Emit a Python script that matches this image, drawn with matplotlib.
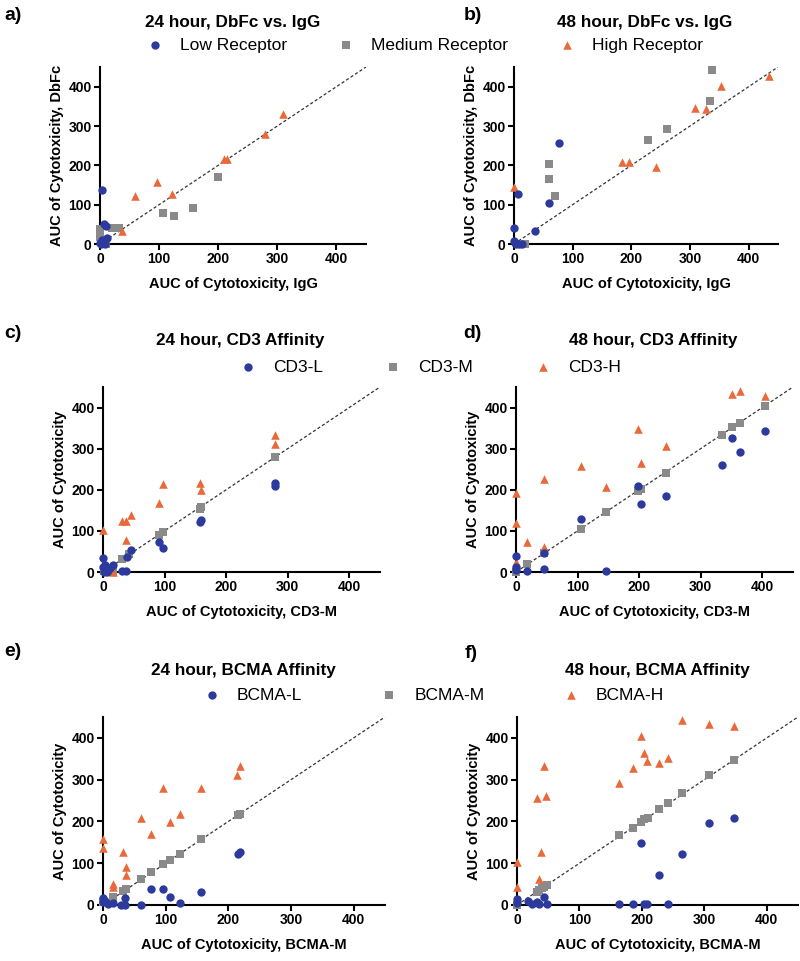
import matplotlib
matplotlib.use('Agg')
import matplotlib.pyplot as plt

plt.rcParams['font.family'] = ['Liberation Sans', 'DejaVu Sans']

#%% Data
# a) 24 hour, DbFc vs IgG
a_low_x = [3, 7, 10, 11, 3, 0, 6, 8, 2]
a_low_y = [138, 52, 45, 15, 10, 2, 5, 0, 0]
a_med_x = [0, 0, 20, 32, 10, 106, 126, 158, 199]
a_med_y = [38, 18, 40, 40, 0, 78, 72, 91, 171]
a_high_x = [38, 59, 96, 122, 210, 215, 279, 310]
a_high_y = [32, 123, 157, 126, 216, 216, 280, 331]

# b) 48 hour, DbFc vs IgG
b_low_x = [7, 0, 0, 1, 8, 14, 4, 36, 60, 77]
b_low_y = [128, 40, 8, 2, 1, 0, 0, 34, 105, 258]
b_med_x = [19, 60, 60, 70, 228, 261, 334, 338]
b_med_y = [0, 203, 165, 122, 264, 293, 363, 442]
b_high_x = [0, 184, 196, 242, 308, 327, 353, 434]
b_high_y = [144, 208, 208, 197, 345, 343, 401, 426]

# c) 24 hour, CD3 affinity
c_low_x = [0, 0, 4, 8, 12, 17, 31, 38, 39, 46, 91, 97, 157, 159, 280, 280, 2, 6]
c_low_y = [33, 12, 18, 5, 10, 18, 2, 2, 37, 53, 72, 59, 122, 126, 210, 217, 0, 0]
c_med_x = [2, 17, 31, 43, 91, 97, 157, 159, 279]
c_med_y = [2, 0, 31, 43, 91, 98, 154, 159, 279]
c_high_x = [0, 0, 17, 31, 38, 46, 37, 91, 97, 157, 159, 280, 280]
c_high_y = [103, 20, 0, 124, 124, 138, 77, 169, 214, 217, 199, 333, 311]

# d) 48 hour, CD3 affinity
d_low_x = [0, 0, 0, 18, 45, 45, 105, 147, 198, 203, 243, 334, 351, 364, 404]
d_low_y = [39, 12, 4, 2, 47, 8, 128, 2, 210, 165, 185, 260, 327, 293, 344]
d_med_x = [0, 18, 45, 105, 147, 198, 203, 243, 334, 351, 364, 404]
d_med_y = [0, 20, 47, 104, 146, 198, 203, 241, 333, 352, 363, 404]
d_high_x = [0, 0, 0, 18, 45, 45, 105, 147, 198, 203, 243, 351, 364, 404]
d_high_y = [193, 120, 24, 72, 61, 226, 258, 207, 347, 264, 307, 433, 441, 427]

# e) 24 hour, BCMA affinity
e_low_x = [0, 0, 3, 8, 16, 29, 35, 35, 61, 77, 96, 107, 123, 156, 215, 219]
e_low_y = [16, 6, 10, 2, 4, 0, 16, 0, 0, 39, 39, 20, 4, 32, 123, 127]
e_med_x = [0, 16, 32, 37, 61, 77, 96, 107, 123, 156, 215, 219]
e_med_y = [8, 20, 34, 39, 62, 78, 99, 107, 123, 157, 215, 217]
e_high_x = [0, 0, 16, 16, 32, 37, 37, 60, 77, 96, 107, 123, 156, 214, 218]
e_high_y = [157, 137, 51, 44, 127, 90, 71, 209, 171, 280, 199, 218, 280, 312, 333]

# f) 48 hour, BCMA affinity
f_low_x = [0, 0, 18, 24, 44, 48, 164, 185, 198, 203, 208, 227, 242, 264, 308, 347, 32, 36]
f_low_y = [14, 4, 10, 2, 20, 2, 2, 2, 149, 2, 2, 72, 2, 123, 197, 209, 8, 2]
f_med_x = [0, 32, 35, 40, 44, 48, 164, 185, 198, 203, 209, 227, 242, 264, 308, 347]
f_med_y = [0, 32, 35, 40, 44, 48, 167, 185, 199, 205, 209, 229, 243, 267, 311, 348]
f_high_x = [0, 0, 32, 47, 44, 39, 36, 164, 185, 198, 203, 208, 227, 242, 264, 308, 347]
f_high_y = [104, 43, 257, 261, 333, 128, 62, 293, 327, 404, 365, 345, 339, 353, 443, 434, 428]

ticks = [0, 100, 200, 300, 400]

BLUE = '#2b3a9c'
GRAY = '#8a8a8a'
ORANGE = '#e8693a'

#%% Figure
W, H = 800, 961
fig = plt.figure(figsize=(W / 100, H / 100), dpi=100)


def px_axes(left, right, top, bottom):
    # pixel box -> figure axes
    return fig.add_axes([left / W, 1 - bottom / H, (right - left) / W, (bottom - top) / H])


panels = [
    # box, title, title pos, letter pos, data, xlabel, ylabel
    ((100, 366, 67, 244), '24 hour, DbFc vs. IgG', (233, 22), (4, 15),
     (a_low_x, a_low_y, a_med_x, a_med_y, a_high_x, a_high_y),
     'AUC of Cytotoxicity, IgG', 'AUC of Cytotoxicity, DbFc'),
    ((514, 778, 67, 244), '48 hour, DbFc vs. IgG', (645, 22), (464, 15),
     (b_low_x, b_low_y, b_med_x, b_med_y, b_high_x, b_high_y),
     'AUC of Cytotoxicity, IgG', 'AUC of Cytotoxicity, DbFc'),
    ((103, 380, 387, 572), '24 hour, CD3 Affinity', (240, 340), (4, 333),
     (c_low_x, c_low_y, c_med_x, c_med_y, c_high_x, c_high_y),
     'AUC of Cytotoxicity, CD3-M', 'AUC of Cytotoxicity'),
    ((516, 793, 387, 572), '48 hour, CD3 Affinity', (653, 340), (463, 333),
     (d_low_x, d_low_y, d_med_x, d_med_y, d_high_x, d_high_y),
     'AUC of Cytotoxicity, CD3-M', 'AUC of Cytotoxicity'),
    ((103, 385, 717, 905), '24 hour, BCMA Affinity', (243, 670), (4, 652),
     (e_low_x, e_low_y, e_med_x, e_med_y, e_high_x, e_high_y),
     'AUC of Cytotoxicity, BCMA-M', 'AUC of Cytotoxicity'),
    ((517, 798, 717, 905), '48 hour, BCMA Affinity', (657, 670), (465, 653),
     (f_low_x, f_low_y, f_med_x, f_med_y, f_high_x, f_high_y),
     'AUC of Cytotoxicity, BCMA-M', 'AUC of Cytotoxicity'),
]

handles_all = []
for box, title, tpos, lpos, data, xlab, ylab in panels:
    ax = px_axes(*box)
    lx, ly, mx, my, hx, hy = data
    ax.plot([0, 450], [0, 450], ls=(0, (2.5, 1.8)), color='#333333', lw=0.9, zorder=1)
    hm = ax.scatter(mx, my, marker='s', s=32, color=GRAY, clip_on=False, zorder=3, linewidths=0)
    hh = ax.scatter(hx, hy, marker='^', s=38, color=ORANGE, clip_on=False, zorder=4, linewidths=0)
    hl = ax.scatter(lx, ly, marker='o', s=36, color=BLUE, clip_on=False, zorder=5, linewidths=0)
    handles_all.append((hl, hm, hh))

    ax.set_xlim(0, 450)
    ax.set_ylim(0, 450)
    ax.set_xticks(ticks)
    ax.set_yticks(ticks)
    for s in ['top', 'right']:
        ax.spines[s].set_visible(False)
    for s in ['left', 'bottom']:
        ax.spines[s].set_linewidth(1.5)
    ax.tick_params(direction='out', length=4, width=1.5, labelsize=10, pad=2)
    for lab in ax.get_xticklabels() + ax.get_yticklabels():
        lab.set_fontweight('bold')
    ax.set_xlabel(xlab, fontsize=10.5, fontweight='bold', labelpad=8)
    ax.set_ylabel(ylab, fontsize=10.5, fontweight='bold', labelpad=3)

    fig.text(tpos[0] / W, 1 - tpos[1] / H, title, ha='center', va='center',
             fontsize=12.3, fontweight='bold')
    fig.text(lpos[0] / W, 1 - lpos[1] / H, 'abcdef'[len(handles_all) - 1] + ')',
             ha='left', va='center', fontsize=14, fontweight='bold')

#%% Legends
legends = [
    (handles_all[0], ['Low Receptor', 'Medium Receptor', 'High Receptor'], 155, 45, 2.9),
    (handles_all[2], ['CD3-L', 'CD3-M', 'CD3-H'], 248, 367, 3.55),
    (handles_all[4], ['BCMA-L', 'BCMA-M', 'BCMA-H'], 212, 695, 4.5),
]
FS = 12.5
for hnd, labels, mx0, my0, colsp in legends:
    x0 = (mx0 - FS * 100 / 72 / 2) / W
    fig.legend(hnd, labels, loc='center left', bbox_to_anchor=(x0, 1 - my0 / H),
               ncol=3, frameon=False, fontsize=FS, handlelength=1.0,
               handletextpad=0.94, columnspacing=colsp, borderpad=0,
               borderaxespad=0, scatterpoints=1)

fig.savefig('out.png', dpi=100)
